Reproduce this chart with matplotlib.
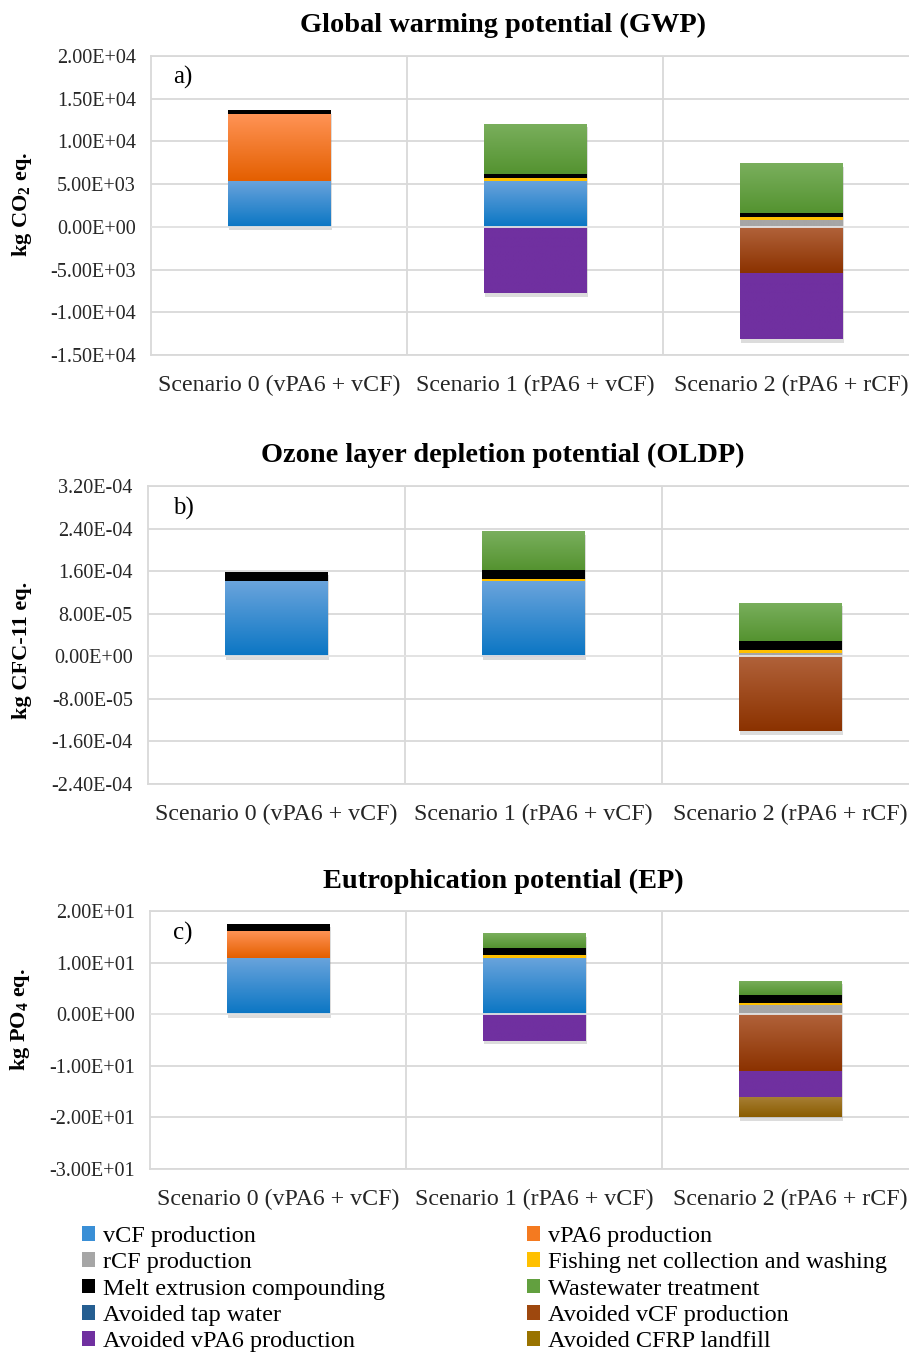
import numpy as np
import matplotlib.pyplot as plt
from matplotlib import patheffects as pe
from matplotlib.colors import to_rgb
from matplotlib.patches import Patch
from matplotlib.ticker import FuncFormatter

plt.rcParams['font.family'] = ['Liberation Serif', 'DejaVu Serif']
plt.rcParams['mathtext.fontset'] = 'custom'
plt.rcParams['mathtext.rm'] = 'Liberation Serif'
plt.rcParams['mathtext.bf'] = 'Liberation Serif:bold'

scenarios = ["Scenario 0 (vPA6 + vCF)", "Scenario 1 (rPA6 + vCF)", "Scenario 2 (rPA6 + rCF)"]

series_names = ["vCF production", "vPA6 production", "rCF production",
                "Fishing net collection and washing", "Melt extrusion compounding",
                "Wastewater treatment", "Avoided tap water", "Avoided vCF production",
                "Avoided vPA6 production", "Avoided CFRP landfill"]

# (top, bottom) colours of the Excel-like gradient fill
series_colors = [("#6aa4dc", "#0b76c4"), ("#ff9355", "#e45f00"), ("#a6a6a6", "#a6a6a6"),
                 ("#ffc000", "#ffc000"), ("#000000", "#000000"), ("#7aaf5d", "#549330"),
                 ("#2e6aa0", "#1f5284"), ("#b1623a", "#8b3200"), ("#7030a0", "#7030a0"),
                 ("#a88036", "#8a5c00")]
legend_colors = ["#3a8fd6", "#f47a20", "#a6a6a6", "#ffc000", "#000000",
                 "#62a03f", "#255e91", "#9e480e", "#7030a0", "#997300"]

# GWP, kg CO2 eq.
gwp = [[5400, 5400, 0], [7800, 0, 0], [0, 0, 850], [0, 330, 300], [470, 470, 470],
       [0, 5870, 5800], [0, -20, -20], [0, 0, -5370], [0, -7750, -7780], [0, 0, 0]]
# OLDP, kg CFC-11 eq.
oldp = [[1.406e-4, 1.406e-4, 0], [1.5e-6, 0, 0], [0, 0, 6.0e-6], [0, 5.0e-6, 5.0e-6],
        [1.65e-5, 1.6e-5, 1.7e-5], [0, 7.3e-5, 7.25e-5], [0, 0, 0], [0, 0, -1.4e-4],
        [0, -1.0e-6, -1.0e-6], [0, 0, 0]]
# EP, kg PO4 eq.
ep = [[10.97, 10.97, 0], [5.16, 0, 0], [0, 0, 1.8], [0, 0.5, 0.45], [1.35, 1.35, 1.4],
      [0, 2.9, 2.8], [0, -0.05, -0.05], [0, 0, -10.9], [0, -5.1, -5.16], [0, 0, -3.9]]

W, H = 909, 1357
fig = plt.figure(figsize=(W / 100, H / 100), dpi=100)


def px_axes(left, top, right, bottom):
    return fig.add_axes([left / W, 1 - bottom / H, (right - left) / W, (bottom - top) / H])


def gradient(ax, rect, c_top, c_bot):
    x, y, w, h = rect.get_x(), rect.get_y(), rect.get_width(), rect.get_height()
    y0, y1 = min(y, y + h), max(y, y + h)
    t = np.linspace(0, 1, 64)[:, None]
    img = (1 - t) * np.array(to_rgb(c_top)) + t * np.array(to_rgb(c_bot))
    im = ax.imshow(img[:, None, :], extent=[x, x + w, y0, y1], origin='upper',
                   aspect='auto', interpolation='bilinear', zorder=2.5)
    im.set_clip_path(rect)


panels = [
    dict(box=(151, 56, 919, 355), data=gwp, lim=(-1.5e4, 2.0e4), step=5e3,
         title="Global warming potential (GWP)", ty=25, ylabel="kg CO$_\\mathbf{2}$ eq.",
         lx=22, ly=204, letter="a)", let_y=77),
    dict(box=(148, 486, 919, 784), data=oldp, lim=(-2.4e-4, 3.2e-4), step=8e-5,
         title="Ozone layer depletion potential (OLDP)", ty=455, ylabel="kg CFC-11 eq.",
         lx=22, ly=650, letter="b)", let_y=508),
    dict(box=(150, 911, 918, 1169), data=ep, lim=(-30, 20), step=10,
         title="Eutrophication potential (EP)", ty=881, ylabel="kg PO$_\\mathbf{4}$ eq.",
         lx=20, ly=1020, letter="c)", let_y=933),
]

x = np.arange(len(scenarios))
for p in panels:
    ax = px_axes(*p['box'])
    pos = np.zeros(len(x))
    neg = np.zeros(len(x))
    for vals, (ct, cb) in zip(p['data'], series_colors):
        vals = np.array(vals, float)
        base = np.where(vals >= 0, pos, neg)
        bars = ax.bar(x, vals, 0.4, bottom=base, color=ct, zorder=2, linewidth=0,
                      path_effects=[pe.SimplePatchShadow(offset=(1, -2.5), shadow_rgbFace='#8c8c8c',
                                                         alpha=0.3), pe.Normal()])
        for r, v in zip(bars, vals):
            if v != 0:
                gradient(ax, r, ct, cb)
        pos += np.clip(vals, 0, None)
        neg += np.clip(vals, None, 0)

    lo, hi = p['lim']
    ax.set_xlim(-0.5, 2.5)
    ax.set_ylim(lo, hi)
    ax.set_yticks(np.arange(lo, hi + p['step'] / 2, p['step']))
    ax.yaxis.set_major_formatter(FuncFormatter(lambda v, _: f"{0 if abs(v) < 1e-12 else v:.2E}"))
    ax.set_xticks(x)
    ax.set_xticklabels(scenarios)
    ax.set_xticks([0.5, 1.5], minor=True)
    ax.set_axisbelow(True)
    ax.grid(axis='y', color='#d9d9d9', lw=1.3)
    ax.grid(axis='x', which='minor', color='#d9d9d9', lw=1.3)
    ax.axhline(0, color='#e4e4e4', lw=1.3, zorder=3)
    for s in ax.spines.values():
        s.set_color('#d9d9d9')
        s.set_linewidth(1.3)
    ax.tick_params(axis='both', which='both', length=0)
    ax.tick_params(axis='y', labelsize=14.5, pad=11, colors='#262626')
    ax.tick_params(axis='x', labelsize=17.2, pad=14, colors='#262626')

    fig.text(503 / W, 1 - p['ty'] / H, p['title'], ha='center', va='center',
             fontsize=20.4, fontweight='bold')
    fig.text(p['lx'] / W, 1 - p['ly'] / H, p['ylabel'], ha='center', va='center',
             rotation=90, fontsize=16, fontweight='bold')
    fig.text(183 / W, 1 - p['let_y'] / H, p['letter'], ha='center', va='center', fontsize=18)

handles = [Patch(facecolor=c, edgecolor='none') for c in legend_colors]
left_idx = [0, 2, 4, 6, 8]
right_idx = [1, 3, 5, 7, 9]
for idx, lx in [(left_idx, 82), (right_idx, 527)]:
    fig.legend([handles[i] for i in idx], [series_names[i] for i in idx],
               loc='upper left', bbox_to_anchor=(lx / W, 1 - 1226 / H), frameon=False,
               borderpad=0, borderaxespad=0, handlelength=0.55, handleheight=0.55,
               handletextpad=0.3, labelspacing=0.22,
               prop={'family': 'Liberation Serif', 'size': 17.5})

fig.savefig("out.png", dpi=100)
